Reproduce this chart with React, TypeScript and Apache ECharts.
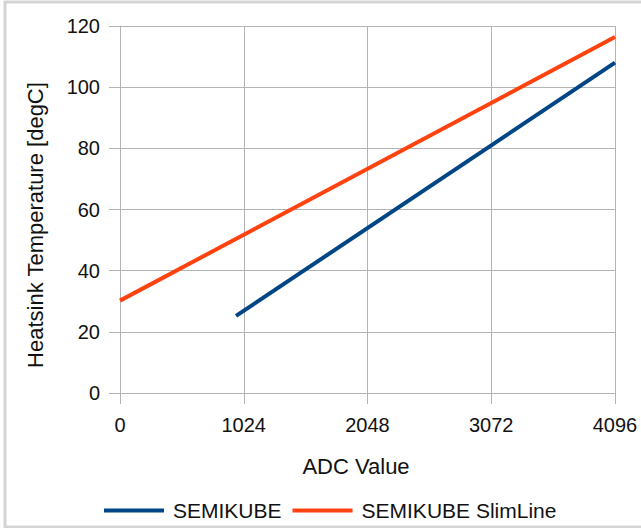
import React, { useEffect, useRef } from "react";
import * as echarts from "echarts";

const xTicks = [0, 1024, 2048, 3072, 4096];
const semikubeX = [960, 4096];
const semikubeY = [25.2, 108];
const slimX = [0, 4096];
const slimY = [30.2, 116.4];
const seriesNames = ["SEMIKUBE", "SEMIKUBE SlimLine"];
const colors = ["#004586", "#ff420e"];

export default function App() {
  const ref = useRef<HTMLDivElement>(null);
  useEffect(() => {
    const chart = echarts.init(ref.current!, null, { renderer: "svg" });
    const font = "'Liberation Sans', Arial, sans-serif";
    const grid = "#b3b3b3";
    chart.setOption({
      animation: false,
      backgroundColor: "#ffffff",
      textStyle: { fontFamily: font },
      grid: { left: 120, right: 26, top: 26, bottom: 135, containLabel: false },
      xAxis: {
        type: "value",
        min: xTicks[0],
        max: xTicks[xTicks.length - 1],
        interval: 1024,
        axisLine: { show: true, lineStyle: { color: grid, width: 1 } },
        axisTick: { show: true, length: 11, lineStyle: { color: grid } },
        splitLine: { show: true, lineStyle: { color: grid, width: 1 } },
        axisLabel: {
          color: "#111",
          fontSize: 20,
          margin: 22,
          fontFamily: font,
          formatter: (v: number) => String(v),
        },
      },
      yAxis: {
        type: "value",
        min: 0,
        max: 120,
        interval: 20,
        axisLine: { show: true, lineStyle: { color: grid, width: 1 } },
        axisTick: { show: true, length: 11, lineStyle: { color: grid } },
        splitLine: { show: true, lineStyle: { color: grid, width: 1 } },
        axisLabel: {
          color: "#111",
          fontSize: 20,
          margin: 20,
          fontFamily: font,
          formatter: (v: number) => String(v),
        },
      },
      legend: {
        left: 99,
        top: 495,
        icon: "rect",
        itemWidth: 60,
        itemHeight: 4,
        itemGap: 11,
        textStyle: { fontSize: 21, color: "#111", fontFamily: font, padding: [0, 0, 0, 4] },
        data: seriesNames,
      },
      graphic: [
        {
          type: "rect",
          shape: { x: 5, y: 2, width: 700, height: 525 },
          style: { fill: "none", stroke: "#d4d4d4", lineWidth: 3 },
          silent: true,
        },
        {
          type: "text",
          x: 35,
          y: 225,
          rotation: Math.PI / 2,
          style: {
            text: "Heatsink Temperature [degC]",
            fontSize: 22,
            fontFamily: font,
            fill: "#111",
            textAlign: "center",
            textVerticalAlign: "middle",
          },
        },
        {
          type: "text",
          x: 356,
          y: 466,
          style: {
            text: "ADC Value",
            fontSize: 22,
            fontFamily: font,
            fill: "#111",
            textAlign: "center",
            textVerticalAlign: "middle",
          },
        },
      ],
      series: [
        {
          name: seriesNames[0],
          type: "line",
          data: semikubeX.map((x, i) => [x, semikubeY[i]]),
          symbol: "none",
          color: colors[0],
          lineStyle: { width: 4, color: colors[0] },
        },
        {
          name: seriesNames[1],
          type: "line",
          data: slimX.map((x, i) => [x, slimY[i]]),
          symbol: "none",
          color: colors[1],
          lineStyle: { width: 4, color: colors[1] },
        },
      ],
    });
    return () => chart.dispose();
  }, []);
  return (
    <div
      ref={ref}
      style={{ position: "fixed", left: 0, top: 0, width: 641, height: 528 }}
    />
  );
}
